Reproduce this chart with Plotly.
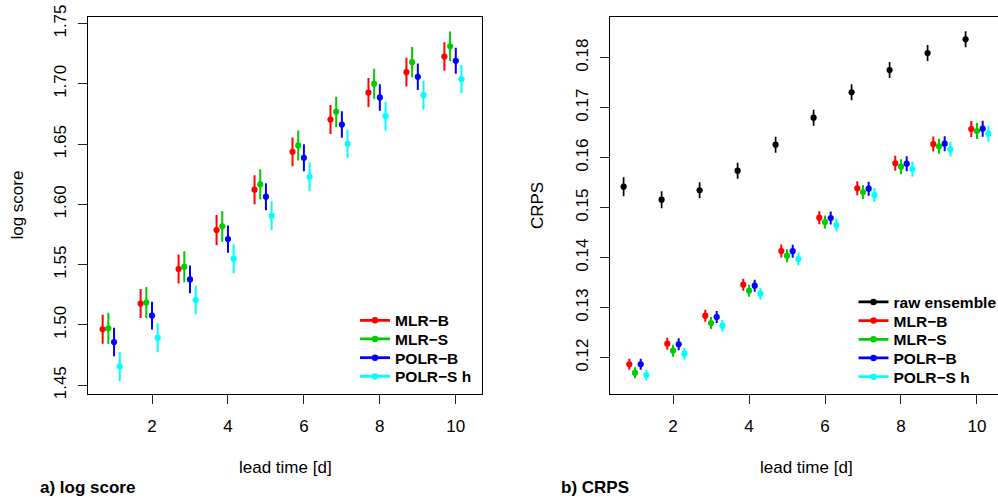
import plotly.graph_objects as go

W, H = 998, 500

lead = [1, 2, 3, 4, 5, 6, 7, 8, 9, 10]

# ---- a) log score ----
ls_mlr_b = [1.4964, 1.5178, 1.5464, 1.5787, 1.6122, 1.6436, 1.6704, 1.6928, 1.7097, 1.7227]
ls_mlr_s = [1.4972, 1.5186, 1.5483, 1.5818, 1.6166, 1.6489, 1.6768, 1.7000, 1.7180, 1.7312]
ls_polr_b = [1.4858, 1.5078, 1.5378, 1.5713, 1.6064, 1.6387, 1.6663, 1.6887, 1.7058, 1.7191]
ls_polr_s = [1.4656, 1.4894, 1.5206, 1.5550, 1.5906, 1.6229, 1.6503, 1.6732, 1.6906, 1.7039]
ls_err_mlr_b = [0.012, 0.012, 0.012, 0.0125, 0.012, 0.012, 0.012, 0.012, 0.012, 0.0118]
ls_err_mlr_s = [0.013, 0.013, 0.0128, 0.0128, 0.0125, 0.0125, 0.0125, 0.0125, 0.0125, 0.0123]
ls_err_polr_b = [0.0118, 0.0115, 0.0115, 0.0113, 0.0112, 0.0112, 0.011, 0.011, 0.011, 0.0108]
ls_err_polr_s = [0.012, 0.012, 0.012, 0.012, 0.012, 0.012, 0.012, 0.012, 0.012, 0.0117]

# ---- b) CRPS ----
cr_raw = [0.1542, 0.1516, 0.15347, 0.1574, 0.1626, 0.1680, 0.17307, 0.17753, 0.18093, 0.18367]
cr_mlr_b = [0.11867, 0.1228, 0.1284, 0.1346, 0.14133, 0.1480, 0.15387, 0.15887, 0.16273, 0.16573]
cr_mlr_s = [0.1170, 0.1214, 0.12693, 0.1334, 0.1404, 0.14713, 0.15313, 0.1582, 0.16227, 0.16533]
cr_polr_b = [0.11867, 0.12267, 0.12813, 0.1344, 0.1413, 0.14793, 0.1538, 0.1588, 0.1628, 0.1658]
cr_polr_s = [0.11653, 0.1208, 0.1264, 0.1328, 0.13973, 0.14653, 0.15253, 0.15767, 0.16167, 0.1648]
cr_err_raw = [0.0019, 0.0017, 0.0016, 0.0016, 0.0016, 0.0016, 0.0016, 0.0016, 0.0016, 0.0016]
cr_err_post = [0.0011, 0.0012, 0.0012, 0.0012, 0.0013, 0.0013, 0.0014, 0.0015, 0.0015, 0.0016]

names = ["MLR\u2212B", "MLR\u2212S", "POLR\u2212B", "POLR\u2212S h"]
raw_name = "raw ensemble"
colors = ["#FF0000", "#00CD00", "#0000FF", "#00FFFF"]

left_offsets = [-0.30, -0.15, 0.0, 0.15]
right_offsets = [-0.15, 0.0, 0.15, 0.30]
raw_offset = -0.30

FONT = "Liberation Sans, Arial, Helvetica, sans-serif"

fig = go.Figure()


def add_points(xs, ys, errs, color, xa, ya, ms=6.2, ew=2.0):
    fig.add_trace(go.Scatter(
        x=xs, y=ys, mode="markers", xaxis=xa, yaxis=ya,
        marker=dict(color=color, size=ms),
        error_y=dict(type="data", array=errs, color=color, thickness=ew, width=0),
        showlegend=False, hoverinfo="x+y"))


ls_series = [ls_mlr_b, ls_mlr_s, ls_polr_b, ls_polr_s]
ls_errs = [ls_err_mlr_b, ls_err_mlr_s, ls_err_polr_b, ls_err_polr_s]
for s, e, c, o in zip(ls_series, ls_errs, colors, left_offsets):
    add_points([l + o for l in lead], s, e, c, "x", "y")

add_points([l + raw_offset for l in lead], cr_raw, cr_err_raw, "#000000", "x2", "y2", ms=6.2, ew=1.7)
cr_series = [cr_mlr_b, cr_mlr_s, cr_polr_b, cr_polr_s]
for s, c, o in zip(cr_series, colors, right_offsets):
    add_points([l + o for l in lead], s, cr_err_post, c, "x2", "y2")

# legend entries: one legend per entry for exact row spacing
legend_layouts = {}
row_h = 18.7
left_rows = [320.7 + i * row_h for i in range(4)]
right_rows = [302.3 + i * row_h for i in range(5)]
left_leg_x = 355.0
right_leg_x = 853.5

k = 1
def add_leg(name, color, xa, ya, px, py):
    global k
    lname = "legend" if k == 1 else f"legend{k}"
    fig.add_trace(go.Scatter(
        x=[None], y=[None], mode="lines+markers", name=name, xaxis=xa, yaxis=ya,
        line=dict(color=color, width=2.8), marker=dict(color=color, size=6.5),
        legend=lname, showlegend=True))
    legend_layouts[lname] = dict(
        x=px / W, y=1 - py / H, xanchor="left", yanchor="middle",
        bgcolor="rgba(0,0,0,0)", borderwidth=0,
        font=dict(family=FONT, size=15.5, color="black", weight="bold"),
        itemclick=False, itemdoubleclick=False)
    k += 1

for n, c, py in zip(names, colors, left_rows):
    add_leg(n, c, "x", "y", left_leg_x, py)
add_leg(raw_name, "#000000", "x2", "y2", right_leg_x, right_rows[0])
for n, c, py in zip(names, colors, right_rows[1:]):
    add_leg(n, c, "x2", "y2", right_leg_x, py)

ydom = [1 - 394.3 / H, 1 - 17.3 / H]

axis_common = dict(
    showline=True, linecolor="black", linewidth=1.3,
    ticks="outside", ticklen=9, tickwidth=1.2, tickcolor="#222",
    showgrid=False, zeroline=False, automargin=False,
    tickfont=dict(family=FONT, size=17, color="black"),
)

fig.update_layout(
    width=W, height=H,
    margin=dict(l=0, r=0, t=0, b=0, autoexpand=False),
    paper_bgcolor="white", plot_bgcolor="white",
    xaxis=dict(domain=[88 / W, 482 / W], range=[0.314, 10.69],
               tickvals=[2, 4, 6, 8, 10], mirror=True, anchor="y",
               ticklabelstandoff=7, **axis_common),
    yaxis=dict(domain=ydom, range=[1.4425, 1.7552],
               tickvals=[1.45, 1.50, 1.55, 1.60, 1.65, 1.70, 1.75], tickformat=".2f",
               tickangle=-90, mirror=True, anchor="x", ticklabelstandoff=5, **axis_common),
    xaxis2=dict(domain=[609.7 / W, 1.0], range=[0.334, 10.553],
                tickvals=[2, 4, 6, 8, 10], mirror=True, anchor="y2",
                ticklabelstandoff=7, **axis_common),
    yaxis2=dict(domain=ydom, range=[0.11268, 0.18808],
                tickvals=[0.12, 0.13, 0.14, 0.15, 0.16, 0.17, 0.18], tickformat=".2f",
                tickangle=-90, mirror=False, anchor="x2", ticklabelstandoff=5, **axis_common),
    **legend_layouts,
)

ann_font = dict(family=FONT, size=17, color="black")
annotations = [
    dict(text="lead time [d]", x=285 / W, y=1 - 467 / H, xref="paper", yref="paper",
         xanchor="center", yanchor="middle", showarrow=False, font=ann_font),
    dict(text="lead time [d]", x=806.5 / W, y=1 - 467 / H, xref="paper", yref="paper",
         xanchor="center", yanchor="middle", showarrow=False, font=ann_font),
    dict(text="log score", x=18 / W, y=1 - 205.6 / H, xref="paper", yref="paper",
         xanchor="center", yanchor="middle", textangle=-90, showarrow=False, font=ann_font),
    dict(text="CRPS", x=537.5 / W, y=1 - 205.6 / H, xref="paper", yref="paper",
         xanchor="center", yanchor="middle", textangle=-90, showarrow=False, font=ann_font),
    dict(text="<b>a) log score</b>", x=38 / W, y=1 - 487.5 / H, xref="paper", yref="paper",
         xanchor="left", yanchor="middle", showarrow=False, font=ann_font),
    dict(text="<b>b) CRPS</b>", x=559 / W, y=1 - 487.5 / H, xref="paper", yref="paper",
         xanchor="left", yanchor="middle", showarrow=False, font=ann_font),
]
fig.update_layout(annotations=annotations)

fig.write_html("out.html")
